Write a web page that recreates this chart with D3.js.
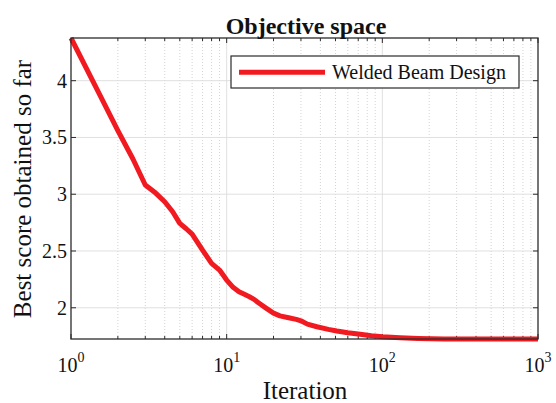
<!DOCTYPE html>
<html>
<head>
<meta charset="utf-8">
<script src="https://cdn.jsdelivr.net/npm/d3@7"></script>
<style>
  html, body { margin: 0; padding: 0; background: #fff; }
  svg { display: block; }
  text { font-family: "Liberation Serif", "Times New Roman", serif; fill: #111; }
</style>
</head>
<body>
<svg id="chart" width="556" height="403"></svg>
<script>
// Convergence curve: best objective value per iteration (Welded Beam Design)
const iterations = [1, 1.5, 2, 2.5, 3, 3.5, 4, 4.5, 5, 5.5, 6, 7, 8, 9, 10, 11, 12, 13, 14, 15, 16, 18, 20,
                    22, 25, 28, 30, 33, 38, 45, 51, 60, 72, 85, 100, 130, 170, 250, 400, 1000];
const bestScore = [4.376, 3.900, 3.560, 3.310, 3.081, 3.010, 2.934, 2.846, 2.743, 2.696, 2.649, 2.508, 2.391,
                   2.332, 2.244, 2.180, 2.141, 2.118, 2.097, 2.074, 2.044, 1.995, 1.953,
                   1.929, 1.912, 1.898, 1.885, 1.856, 1.833, 1.810, 1.795, 1.780, 1.766, 1.753, 1.744,
                   1.736, 1.730, 1.7255, 1.7250, 1.7249];
const seriesName = "Welded Beam Design";
const yTicks = [2, 2.5, 3, 3.5, 4];
const xTickExponents = [0, 1, 2, 3];
const titleText = "Objective space";
const xLabelText = "Iteration";
const yLabelText = "Best score obtained so far";

const svg = d3.select("#chart");
const margin = { left: 71, right: 538, top: 38, bottom: 339 };
const lineColor = "#f01a20";
const axisColor = "#2b2b2b";

const x = d3.scaleLog().domain([1, 1000]).range([margin.left, margin.right]);
const y = d3.scaleLinear()
  .domain([d3.min(bestScore), d3.max(bestScore)])
  .range([margin.bottom, margin.top]);

// minor decade positions 2..9 in each decade
const minorX = [];
for (let e = 0; e < 3; e++) {
  for (let k = 2; k <= 9; k++) minorX.push(k * Math.pow(10, e));
}
const majorX = xTickExponents.map(e => Math.pow(10, e));

const grid = svg.append("g");
// minor vertical grid (dotted)
grid.selectAll("line.minor").data(minorX).join("line")
  .attr("x1", d => x(d)).attr("x2", d => x(d))
  .attr("y1", margin.top).attr("y2", margin.bottom)
  .attr("stroke", "#c8c8c8").attr("stroke-width", 0.8)
  .attr("stroke-dasharray", "1,2");
// major vertical grid
grid.selectAll("line.majx").data(majorX.slice(1, -1)).join("line")
  .attr("x1", d => x(d)).attr("x2", d => x(d))
  .attr("y1", margin.top).attr("y2", margin.bottom)
  .attr("stroke", "#dcdcdc").attr("stroke-width", 0.9);
// horizontal grid
grid.selectAll("line.majy").data(yTicks).join("line")
  .attr("x1", margin.left).attr("x2", margin.right)
  .attr("y1", d => y(d)).attr("y2", d => y(d))
  .attr("stroke", "#dcdcdc").attr("stroke-width", 0.9);

// inward ticks on all four sides
const ticks = svg.append("g").attr("stroke", axisColor).attr("stroke-width", 1);
const tickLen = 5, minorLen = 3;
majorX.forEach(v => {
  ticks.append("line").attr("x1", x(v)).attr("x2", x(v)).attr("y1", margin.bottom).attr("y2", margin.bottom - tickLen);
  ticks.append("line").attr("x1", x(v)).attr("x2", x(v)).attr("y1", margin.top).attr("y2", margin.top + tickLen);
});
minorX.forEach(v => {
  ticks.append("line").attr("x1", x(v)).attr("x2", x(v)).attr("y1", margin.bottom).attr("y2", margin.bottom - minorLen);
  ticks.append("line").attr("x1", x(v)).attr("x2", x(v)).attr("y1", margin.top).attr("y2", margin.top + minorLen);
});
yTicks.forEach(v => {
  ticks.append("line").attr("x1", margin.left).attr("x2", margin.left + tickLen).attr("y1", y(v)).attr("y2", y(v));
  ticks.append("line").attr("x1", margin.right).attr("x2", margin.right - tickLen).attr("y1", y(v)).attr("y2", y(v));
});

// curve
const line = d3.line().x((d, i) => x(iterations[i])).y(d => y(d)).curve(d3.curveLinear);
svg.append("path")
  .datum(bestScore)
  .attr("d", line)
  .attr("fill", "none")
  .attr("stroke", lineColor)
  .attr("stroke-width", 5)
  .attr("stroke-linejoin", "round");

// axes box
svg.append("rect")
  .attr("x", margin.left).attr("y", margin.top)
  .attr("width", margin.right - margin.left).attr("height", margin.bottom - margin.top)
  .attr("fill", "none").attr("stroke", axisColor).attr("stroke-width", 1.3);

// y tick labels
svg.append("g").selectAll("text").data(yTicks).join("text")
  .attr("x", margin.left - 4)
  .attr("y", d => y(d) + 7)
  .attr("text-anchor", "end")
  .attr("font-size", 20)
  .text(d => d3.format("~g")(d));

// x tick labels 10^n
const xl = svg.append("g").selectAll("text").data(xTickExponents).join("text")
  .attr("x", d => x(Math.pow(10, d)))
  .attr("y", 372)
  .attr("text-anchor", "middle")
  .attr("font-size", 20);
xl.append("tspan").text("10");
xl.append("tspan").attr("font-size", 14).attr("dy", -10).text(d => d);

// axis labels and title
svg.append("text").attr("x", 305).attr("y", 399).attr("text-anchor", "middle")
  .attr("font-size", 25).text(xLabelText);
svg.append("text").attr("transform", "translate(31,189) rotate(-90)")
  .attr("text-anchor", "middle").attr("font-size", 25).text(yLabelText);
svg.append("text").attr("x", 306).attr("y", 34).attr("text-anchor", "middle")
  .attr("font-size", 24).attr("font-weight", "bold").text(titleText);

// legend
const lg = svg.append("g");
lg.append("rect").attr("x", 231).attr("y", 56).attr("width", 288).attr("height", 32)
  .attr("fill", "#fff").attr("stroke", axisColor).attr("stroke-width", 1.2);
lg.append("line").attr("x1", 239).attr("x2", 325).attr("y1", 72.3).attr("y2", 72.3)
  .attr("stroke", lineColor).attr("stroke-width", 5);
lg.append("text").attr("x", 332).attr("y", 79).attr("font-size", 20).text(seriesName);
</script>
</body>
</html>
